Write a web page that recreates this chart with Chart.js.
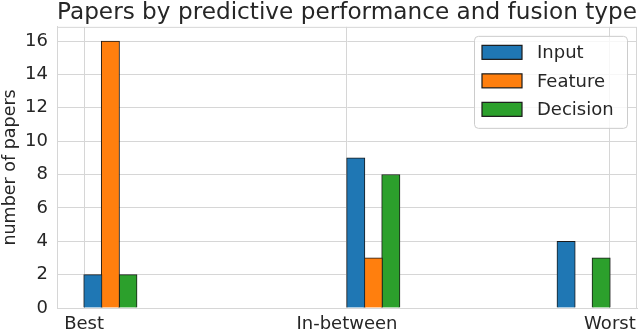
<!DOCTYPE html>
<html lang="en">
<head>
<meta charset="UTF-8">
<title>Papers by predictive performance and fusion type</title>
<script src="https://cdn.jsdelivr.net/npm/chart.js"></script>
<style>
  html, body { margin: 0; padding: 0; background: #fff; }
</style>
</head>
<body>
<canvas id="chart" width="640" height="334"></canvas>
<script>
// data
const categories = ['Best', 'In-between', 'Worst'];
const seriesNames = ['Input', 'Feature', 'Decision'];
const inputPapers = [2, 9, 4];
const featurePapers = [16, 3, 0];
const decisionPapers = [2, 8, 3];
const yTicks = [0, 2, 4, 6, 8, 10, 12, 14, 16];

// layout / style
const colors = ['#1f77b4', '#ff7f0e', '#2ca02c'];
const barWidth = 0.2 / 3;          // in category units
const groupAnchor = [0, 0, -1];    // group starts at the tick, or ends at it (last one)
const textColor = '#262626';
const gridColor = '#d6d6d6';
const fontFamily = 'DejaVu Sans';

function toPoints(values, k) {
    return values.map((v, i) => ({
        x: i + groupAnchor[i] * 3 * barWidth + (k + 0.5) * barWidth,
        y: v
    }));
}

const datasets = [inputPapers, featurePapers, decisionPapers].map((vals, k) => ({
    label: seriesNames[k],
    data: toPoints(vals, k),
    backgroundColor: colors[k],
    borderColor: '#1a1a1a',
    borderWidth: 1,
    barThickness: 18.3,   // a hair wider than the spacing so neighbours share one edge
    grouped: false
}));

// grey frame round the plot, like the matplotlib spines
const frame = {
    id: 'frame',
    beforeDatasetsDraw(chart) {
        const a = chart.chartArea, ctx = chart.ctx;
        ctx.save();
        ctx.strokeStyle = gridColor;
        ctx.lineWidth = 1;
        ctx.strokeRect(a.left + 0.5, a.top + 0.5, a.right - a.left - 1, a.bottom - a.top);
        ctx.restore();
    }
};

// boxed legend in the upper right corner of the plot
const boxLegend = {
    id: 'boxLegend',
    afterDatasetsDraw(chart) {
        const a = chart.chartArea, ctx = chart.ctx;
        const w = 153, rowH = 28.5;
        const right = a.right - 10, top = a.top + 9;
        const left = right - w, h = 92;
        ctx.save();
        ctx.beginPath();
        ctx.roundRect(left + 0.5, top + 0.5, w, h, 4);
        ctx.fillStyle = 'rgba(255,255,255,0.8)';
        ctx.fill();
        ctx.strokeStyle = '#cccccc';
        ctx.lineWidth = 1;
        ctx.stroke();
        ctx.font = '18px "' + fontFamily + '"';
        ctx.textBaseline = 'middle';
        chart.data.datasets.forEach((ds, k) => {
            const cy = top + 16.5 + k * rowH;
            ctx.fillStyle = ds.backgroundColor;
            ctx.fillRect(left + 8, cy - 7, 40, 14);
            ctx.strokeStyle = ds.borderColor;
            ctx.lineWidth = 1.2;
            ctx.strokeRect(left + 8, cy - 7, 40, 14);
            ctx.fillStyle = textColor;
            ctx.fillText(ds.label, left + 63, cy + 1);
        });
        ctx.restore();
    }
};

new Chart(document.getElementById('chart'), {
    type: 'bar',
    data: { datasets: datasets },
    plugins: [frame, boxLegend],
    options: {
        responsive: false,
        animation: false,
        layout: { padding: { right: 3 } },
        plugins: {
            legend: { display: false },
            tooltip: { enabled: false },
            title: {
                display: true,
                text: 'Papers by predictive performance and fusion type',
                fullSize: false,
                color: textColor,
                font: { family: fontFamily, size: 23.5, weight: 'normal', lineHeight: 1.1 },
                padding: { top: 0, bottom: 1 }
            }
        },
        scales: {
            x: {
                type: 'linear',
                offset: false,
                min: -0.103,
                max: 2.103,
                afterBuildTicks: s => { s.ticks = categories.map((c, i) => ({ value: i })); },
                afterFit: s => {
                    s.height = 26;
                    // let the last label run off the edge as in the original
                    s.paddingLeft = 0;
                    s.paddingRight = 0;
                },
                ticks: {
                    callback: v => categories[v],
                    color: textColor,
                    font: { family: fontFamily, size: 18 },
                    padding: 6,
                    maxRotation: 0,
                    autoSkip: false
                },
                grid: { color: gridColor, drawTicks: false, offset: false },
                border: { display: true, color: gridColor }
            },
            y: {
                min: 0,
                max: 16.85,
                afterBuildTicks: s => { s.ticks = yTicks.map(v => ({ value: v })); },
                afterFit: s => { s.width = 57; },
                ticks: {
                    color: textColor,
                    font: { family: fontFamily, size: 18 },
                    padding: 9
                },
                grid: { color: gridColor, drawTicks: false },
                border: { display: true, color: gridColor },
                title: {
                    display: true,
                    text: 'number of papers',
                    color: textColor,
                    font: { family: fontFamily, size: 17.5 },
                    padding: { top: 0, bottom: 0 }
                }
            }
        }
    }
});
</script>
</body>
</html>
